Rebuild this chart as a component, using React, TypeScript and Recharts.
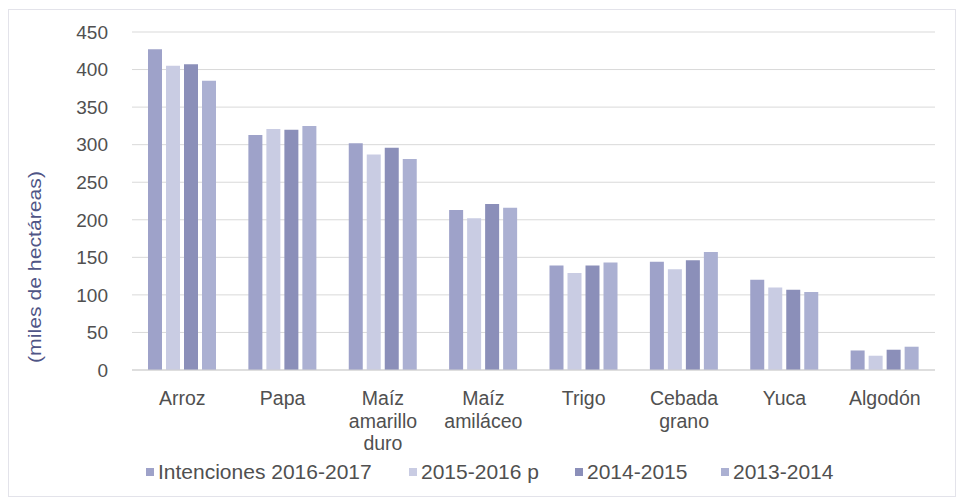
import React from 'react'
import { BarChart, Bar, XAxis, YAxis, CartesianGrid } from 'recharts'

const categories = ['Arroz', 'Papa', 'Maíz amarillo duro', 'Maíz amiláceo', 'Trigo', 'Cebada grano', 'Yuca', 'Algodón']
const categoryLines = [['Arroz'], ['Papa'], ['Maíz', 'amarillo', 'duro'], ['Maíz', 'amiláceo'], ['Trigo'], ['Cebada', 'grano'], ['Yuca'], ['Algodón']]
const intenciones = [427, 313, 302, 213, 139, 144, 120, 26]
const s2015 = [405, 321, 287, 202, 129, 134, 110, 19]
const s2014 = [407, 320, 296, 221, 139, 146, 107, 27]
const s2013 = [385, 325, 281, 216, 143, 157, 104, 31]
const yTicks = [0, 50, 100, 150, 200, 250, 300, 350, 400, 450]

const series = [
  { key: 'intenciones', name: 'Intenciones 2016-2017', color: '#9ea2c9', left: 146 },
  { key: 's2015', name: '2015-2016 p', color: '#c9cce3', left: 409 },
  { key: 's2014', name: '2014-2015', color: '#8b8fb9', left: 575 },
  { key: 's2013', name: '2013-2014', color: '#abb0d2', left: 721 },
]

const data = categories.map((c, i) => ({
  name: c,
  intenciones: intenciones[i],
  s2015: s2015[i],
  s2014: s2014[i],
  s2013: s2013[i],
}))

const font = '"Liberation Sans", Arial, sans-serif'
const textColor = '#505050'

function CategoryTick({ x, y, index }: any) {
  const lines = categoryLines[index] || []
  return (
    <text x={x} y={y} textAnchor="middle" fill={textColor} fontSize={19.5} fontFamily={font}>
      {lines.map((l, i) => (
        <tspan key={i} x={x} dy={i === 0 ? 33 : 22.5}>
          {l}
        </tspan>
      ))}
    </text>
  )
}

function AxisTitle() {
  return (
    <text
      x={34}
      y={267}
      transform="rotate(-90 34 267)"
      textAnchor="middle"
      dominantBaseline="central"
      fill="#4f5586"
      fontSize={19}
      fontFamily={font}
      textLength={192}
      lengthAdjust="spacingAndGlyphs"
    >
      (miles de hectáreas)
    </text>
  )
}

export default function App() {
  return (
    <div style={{ position: 'absolute', left: 0, top: 0, width: 957, height: 504, background: '#fff' }}>
      <div style={{ position: 'absolute', left: 8, top: 9, width: 948, height: 488, border: '1px solid #e3e3ea', boxSizing: 'border-box' }} />
      <BarChart
        width={957}
        height={504}
        data={data}
        margin={{ top: 32, right: 22, left: 0, bottom: 44 }}
        barSize={14}
        barGap={4}
        style={{ position: 'absolute', left: 0, top: 0 }}
      >
        <CartesianGrid vertical={false} stroke="#d9d9d9" />
        <XAxis
          dataKey="name"
          tick={<CategoryTick />}
          tickLine={false}
          tickSize={0}
          axisLine={{ stroke: '#d0d0d0' }}
          height={90}
          interval={0}
        />
        <YAxis
          domain={[0, 450]}
          ticks={yTicks}
          width={132}
          tickLine={false}
          axisLine={false}
          tickMargin={18}
          tick={{ fill: textColor, fontSize: 19, fontFamily: font }}
          label={<AxisTitle />}
        />
        {series.map((s) => (
          <Bar key={s.key} dataKey={s.key} name={s.name} fill={s.color} isAnimationActive={false} />
        ))}
      </BarChart>
      {series.map((s) => (
        <div
          key={s.key}
          style={{
            position: 'absolute',
            left: s.left,
            top: 460,
            display: 'flex',
            alignItems: 'center',
            fontFamily: font,
            fontSize: 21,
            color: textColor,
            whiteSpace: 'nowrap',
          }}
        >
          <span style={{ display: 'inline-block', width: 8, height: 8, background: s.color, marginRight: 4 }} />
          <span>{s.name}</span>
        </div>
      ))}
    </div>
  )
}
